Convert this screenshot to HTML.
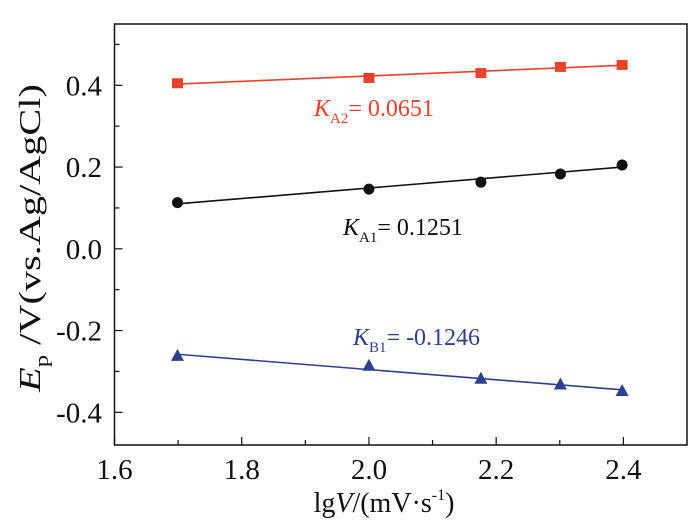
<!DOCTYPE html>
<html><head><meta charset="utf-8"><style>
html,body{margin:0;padding:0;background:#fff;}
svg{display:block;}
svg text{font-family:"Liberation Serif","Times New Roman",serif;}
</style></head><body>
<svg id="chart" width="700" height="526" viewBox="0 0 700 526">
<g id="axes"></g>
<g id="marks"></g>
<text x="0" y="0" transform="translate(40,238) rotate(-90) scale(1.3,1)" text-anchor="middle" font-size="31" fill="#111"><tspan font-style="italic">E</tspan><tspan font-size="19" dy="8">p</tspan><tspan dy="-8"> /V(vs.Ag/AgCl)</tspan></text>
<text x="384" y="512" text-anchor="middle" font-size="28" fill="#111">lg<tspan font-style="italic">V</tspan>/(mV·s<tspan font-size="16" dy="-12">-1</tspan><tspan dy="12">)</tspan></text>
<text x="314" y="116" font-size="24" fill="#e8422a"><tspan font-style="italic">K</tspan><tspan font-size="15" dy="7">A2</tspan><tspan dy="-7">= 0.0651</tspan></text>
<text x="343" y="235" font-size="24" fill="#111"><tspan font-style="italic">K</tspan><tspan font-size="15" dy="7">A1</tspan><tspan dy="-7">= 0.1251</tspan></text>
<text x="353" y="345" font-size="24" fill="#2e3f8f"><tspan font-style="italic">K</tspan><tspan font-size="15" dy="7">B1</tspan><tspan dy="-7">= -0.1246</tspan></text>
<script>
const xValues=[1.699,2.0,2.176,2.301,2.398];
const seriesA2=[0.405,0.418,0.430,0.445,0.450];
const seriesA1=[0.113,0.146,0.163,0.183,0.205];
const seriesB1=[-0.262,-0.286,-0.318,-0.332,-0.348];
const fitA2=[0.403,0.449];
const fitA1=[0.110,0.200];
const fitB1=[-0.258,-0.345];
const xTicks=[1.6,1.8,2.0,2.2,2.4];
const yTicks=[-0.4,-0.2,0.0,0.2,0.4];
const X0=114.5,X1=687,Y0=24,Y1=445,xmin=1.6,xmax=2.5,ymin=-0.48,ymax=0.55;
const sx=v=>X0+(v-xmin)/(xmax-xmin)*(X1-X0);
const sy=v=>Y1-(v-ymin)/(ymax-ymin)*(Y1-Y0);
const NS="http://www.w3.org/2000/svg";
function mk(tag,attrs,parent){const e=document.createElementNS(NS,tag);for(const k in attrs)e.setAttribute(k,attrs[k]);parent.appendChild(e);return e;}
const axes=document.getElementById('axes'),marks=document.getElementById('marks');
const frame=mk('rect',{x:X0,y:Y0,width:X1-X0,height:Y1-Y0,fill:'none',stroke:'#111','stroke-width':1.5},axes);


for(let i=16;i<=24;i++){const v=i/10;const x=sx(v);const major=i%2===0;
const t=mk('line',{x1:x,x2:x,y1:Y1,y2:Y1-(major?8:5),stroke:'#111','stroke-width':1.2},axes);

}
for(let i=-4;i<=5;i++){const v=i/10;const y=sy(v);const major=i%2===0;
const t=mk('line',{x1:X0,x2:X0+(major?8:5),y1:y,y2:y,stroke:'#111','stroke-width':1.2},axes);

}
xTicks.forEach(v=>{const t=mk('text',{x:sx(v),y:479,'text-anchor':'middle','font-size':29,'font-family':'Liberation Serif, serif',fill:'#111'},axes);t.textContent=v.toFixed(1);

});
yTicks.forEach(v=>{const t=mk('text',{x:102,y:sy(v)+10,'text-anchor':'end','font-size':29,'font-family':'Liberation Serif, serif',fill:'#111'},axes);t.textContent=v.toFixed(1);

});
function series(vals,fit,color,shape,name){
const l=mk('line',{x1:sx(xValues[0]),x2:sx(xValues[xValues.length-1]),y1:sy(fit[0]),y2:sy(fit[1]),stroke:color,'stroke-width':1.6},marks);


vals.forEach((v,i)=>{const x=sx(xValues[i]),y=sy(v);let m;
if(shape==='square')m=mk('rect',{x:x-5.5,y:y-5,width:11,height:10,fill:color},marks);
else if(shape==='circle')m=mk('ellipse',{cx:x,cy:y,rx:5.5,ry:5.5,fill:color},marks);
else m=mk('polygon',{points:`${x},${y-7} ${x-6.5},${y+5} ${x+6.5},${y+5}`,fill:color},marks);

});}
series(seriesA2,fitA2,'#e8422a','square','ka2');
series(seriesA1,fitA1,'#111','circle','ka1');
series(seriesB1,fitB1,'#2e3f8f','triangle','kb1');
</script>
</svg>
</body></html>
